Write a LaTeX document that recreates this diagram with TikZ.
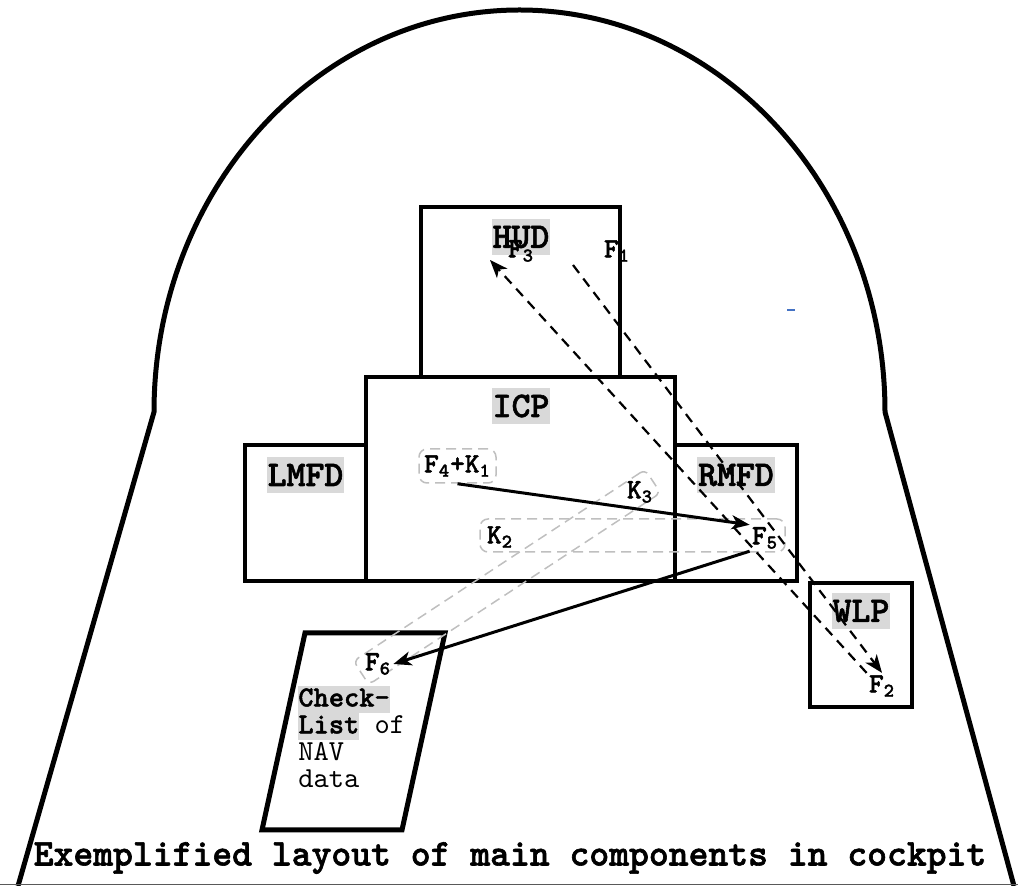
\documentclass[tikz,border=0pt]{standalone}
\usepackage{fontspec}
\setmonofont{lmmono10-regular.otf}[BoldFont=lmmonolt10-bold.otf, BoldFeatures={FakeBold=1.6}]
\usepackage{xcolor}
\usepackage{tikz}
\usetikzlibrary{arrows.meta}
\definecolor{strayblue}{RGB}{68,114,196}
\setlength{\fboxsep}{0pt}
\newcommand{\hilite}[1]{\colorbox{gray!30}{\bfseries\vrule width 0pt height 10pt depth 3.5pt #1}}

\begin{document}
\begin{tikzpicture}[
  x=0.5pt, y=-0.5pt,
  panel/.style={rectangle, draw, line width=2.2pt, inner sep=0pt},
  tag/.style={fill=gray!30, inner xsep=0.5pt, inner ysep=0pt, minimum height=18pt,
              font=\ttfamily\bfseries\fontsize{18}{20}\selectfont},
  fn/.style={inner sep=1pt, font=\ttfamily\bfseries\fontsize{14}{16}\selectfont},
  grp/.style={draw=gray!50, dash pattern=on 5pt off 3pt, line width=0.75pt,
              rounded corners=4pt, inner sep=0pt},
  arr/.style={-{Stealth[length=9pt, width=7pt, inset=2.5pt]}, line width=1.5pt},
  darr/.style={-{Stealth[length=9pt, width=7pt, inset=2.5pt]}, line width=1.1pt, dash pattern=on 5pt off 3.5pt}
]
  \useasboundingbox (0,0) rectangle (1018,886);

  \draw[line width=2.5pt] (18,886) -- (154,412)
    arc[start angle=180, end angle=0, x radius=182.75pt, y radius=201pt] -- (1014,886);
  \draw[gray!70!black, line width=0.5pt] (0,885) -- (1018,885);
  \draw[strayblue, line width=1pt] (787,310) -- (795,310);

  \node[panel, minimum width=99.5pt, minimum height=85pt]   (hud)  at (520.5,292) {};
  \node[panel, minimum width=60.5pt, minimum height=68pt]   (lmfd) at (305.5,513) {};
  \node[panel, minimum width=61pt, minimum height=68pt]     (rmfd) at (736,513) {};
  \node[panel, minimum width=154.5pt, minimum height=102pt] (icp)  at (520.5,479) {};
  \node[panel, minimum width=51pt, minimum height=62pt]     (wlp)  at (861,645) {};
  \draw[line width=2.5pt] (305,633) -- (445,633) -- (402,830) -- (262,830) -- cycle;

  \node[tag] (hudlbl)  at (521,237)   {HUD};
  \node[tag] (icplbl)  at (521,406)   {ICP};
  \node[tag] (lmfdlbl) at (305.5,475) {LMFD};
  \node[tag] (rmfdlbl) at (736,475)   {RMFD};
  \node[tag] (wlplbl)  at (861,611)   {WLP};
  \node[anchor=north west, inner sep=0pt, align=left,
        font=\ttfamily\fontsize{14.5}{13.5}\selectfont] (cklist) at (298,686)
        {\hilite{Check-}\\\hilite{List} of\\NAV\\data};

  \node[grp, minimum width=152.5pt, minimum height=16.5pt] (grpK2F5) at (632.5,535.5) {};
  \node[grp, rotate=33.3, rounded corners=3pt, minimum width=174.5pt, minimum height=14pt] (grpK3F6) at (507,577) {};

  \node[fn] (F3) at (521,251) {F\textsubscript{3}};
  \node[fn] (F1) at (617,251) {F\textsubscript{1}};
  \node[fn, grp, minimum width=38.5pt, minimum height=17pt] (F4K1) at (457.5,466) {F\textsubscript{4}+K\textsubscript{1}};
  \node[fn] (K3) at (640,492) {K\textsubscript{3}};
  \node[fn] (K2) at (500,537) {K\textsubscript{2}};
  \node[fn] (F5) at (765,538) {F\textsubscript{5}};
  \node[fn] (F6) at (378,664) {F\textsubscript{6}};
  \node[fn] (F2) at (882,686) {F\textsubscript{2}};

  \coordinate (f1tail) at (573,265);
  \coordinate (f3tip)  at (490,260);
  \draw[arr] (F4K1.south) -- (F5.north west);
  \draw[arr] (F5.south west) -- (F6.east);
  \draw[darr] (f1tail) -- (F2.north);
  \draw[darr] (F2.north west) -- (f3tip);

  \node[font=\ttfamily\bfseries\fontsize{18.9}{20}\selectfont] (title) at (510,858)
    {Exemplified layout of main components in cockpit};
\end{tikzpicture}
\end{document}
